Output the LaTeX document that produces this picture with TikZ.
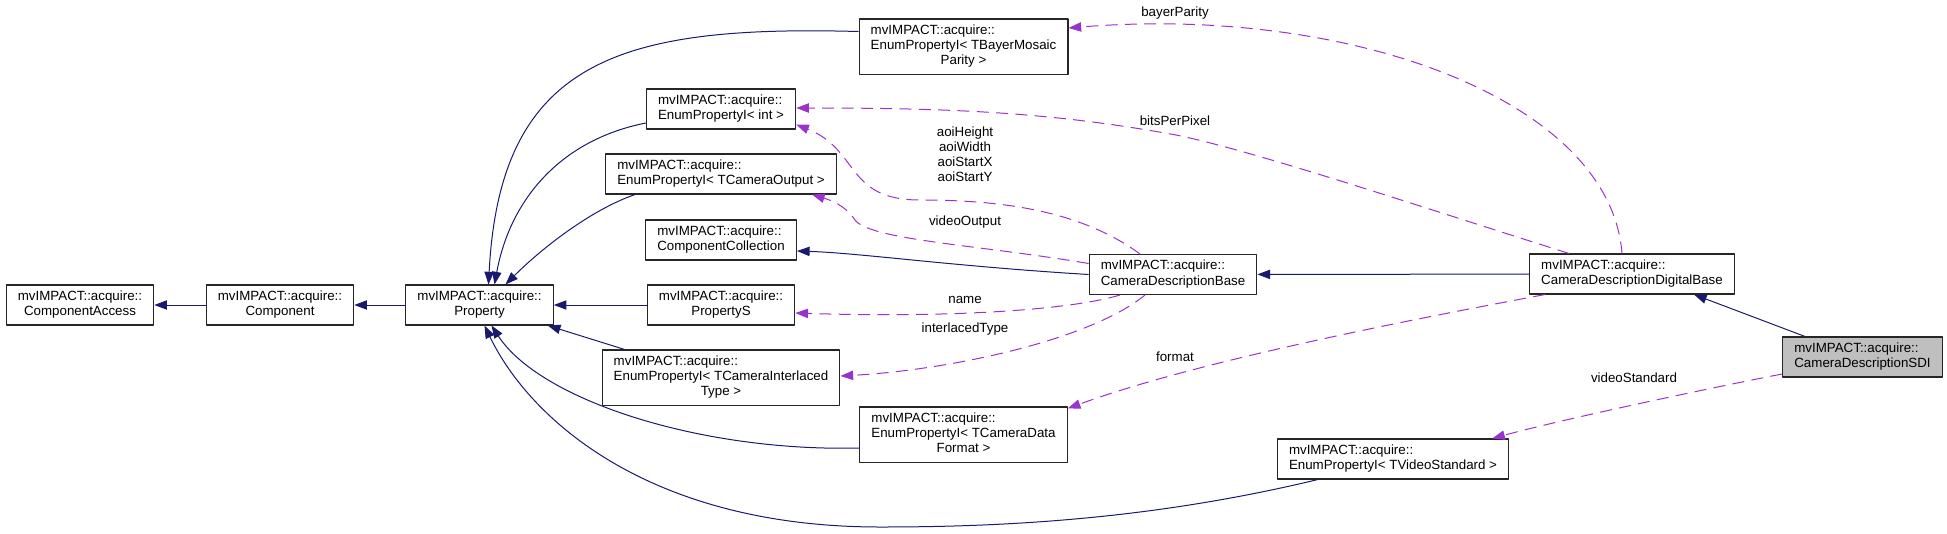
\documentclass[tikz,border=0pt]{standalone}
\usepackage{fontspec}
\setmainfont{Liberation Sans}
\usetikzlibrary{arrows.meta}
\definecolor{navyedge}{HTML}{191970}
\definecolor{orchidedge}{HTML}{9A32CD}
\definecolor{curfill}{HTML}{BFBFBF}
% class name: leading lines left, last line centred
\newcommand{\cname}[2]{\begin{tabular}{@{}l@{}}#1\\\multicolumn{1}{@{}c@{}}{#2}\end{tabular}}

\begin{document}
\begin{tikzpicture}[x=0.75pt, y=-0.75pt, line join=round,
	classbox/.style={draw=black!85, line width=0.8pt, fill=white, inner xsep=8.75pt, inner ysep=3.7pt, font=\fontsize{10}{11.3}\selectfont},
	lbl/.style={inner sep=0pt, font=\fontsize{10}{11.3}\selectfont},
	inh/.style={draw=navyedge, line width=0.75pt, -{Triangle[length=9.5pt,width=7pt]}},
	mem/.style={draw=orchidedge, line width=0.75pt, dash pattern=on 9pt off 5.5pt, -{Triangle[length=9.5pt,width=7pt]}}]
	\useasboundingbox (0,0) rectangle (1947,533);
	% classes
	\node[classbox] (acc) at (80,305) {\cname{mvIMPACT::acquire::}{ComponentAccess}};
	\node[classbox] (comp) at (280,305) {\cname{mvIMPACT::acquire::}{Component}};
	\node[classbox] (prop) at (479.5,305) {\cname{mvIMPACT::acquire::}{Property}};
	\node[classbox] (bayer) at (963.5,46.5) {\cname{mvIMPACT::acquire::\\EnumPropertyI< TBayerMosaic}{Parity >}};
	\node[classbox] (eint) at (721,109) {\cname{mvIMPACT::acquire::}{EnumPropertyI< int >}};
	\node[classbox] (eout) at (721,174) {\cname{mvIMPACT::acquire::}{EnumPropertyI< TCameraOutput >}};
	\node[classbox] (coll) at (721,240) {\cname{mvIMPACT::acquire::}{ComponentCollection}};
	\node[classbox] (props) at (721,305) {\cname{mvIMPACT::acquire::}{PropertyS}};
	\node[classbox] (einter) at (721,377.5) {\cname{mvIMPACT::acquire::\\EnumPropertyI< TCameraInterlaced}{Type >}};
	\node[classbox] (eformat) at (963.5,434.5) {\cname{mvIMPACT::acquire::\\EnumPropertyI< TCameraData}{Format >}};
	\node[classbox] (cdb) at (1173,274.5) {\cname{mvIMPACT::acquire::}{CameraDescriptionBase}};
	\node[classbox] (evideo) at (1393,459) {\cname{mvIMPACT::acquire::}{EnumPropertyI< TVideoStandard >}};
	\node[classbox] (cddb) at (1632,274) {\cname{mvIMPACT::acquire::}{CameraDescriptionDigitalBase}};
	\node[classbox, fill=curfill] (sdi) at (1862.5,357) {\cname{mvIMPACT::acquire::}{CameraDescriptionSDI}};
	% inheritance
	\foreach \a/\b in {comp/acc, prop/comp, props/prop, cddb/cdb}
		\draw[inh] (\a) -- (\b);
	\draw[inh] ([shift={(0,-15)}]bayer.west) .. controls (620,25) and (500,60) .. ([shift={(9,0)}]prop.north);
	\draw[inh] ([shift={(0,14)}]eint.west) .. controls (560,140) and (510,200) .. ([shift={(15,0)}]prop.north);
	\draw[inh] ([shift={(30,0)}]eout.south west) .. controls (590,210) and (540,250) .. ([shift={(26,0)}]prop.north);
	\draw[inh] ([shift={(23,0)}]einter.north west) -- ([shift={(-6,0)}]prop.south east);
	\draw[inh] ([shift={(0,13.5)}]eformat.west) .. controls (700,452) and (540,400) .. ([shift={(12,0)}]prop.south);
	\draw[inh] ([shift={(41,0)}]evideo.south west) .. controls (1150,520) and (1000,527) .. (880,527)
		.. controls (650,527) and (530,420) .. ([shift={(5,0)}]prop.south);
	\draw[inh] (cdb.west) .. controls (950,266) and (860,253) .. ([shift={(0,11)}]coll.east);
	\draw[inh] ([shift={(-57.5,0)}]sdi.north) -- ([shift={(62,0)}]cddb.south);
	% members
	\draw[mem] ([shift={(-10,0)}]cddb.north) .. controls (1610,100) and (1350,5) .. ([shift={(0,-18.5)}]bayer.east);
	\draw[mem] ([shift={(-63,0)}]cddb.north) .. controls (1400,200) and (1250,150) .. (1176,135)
		.. controls (1050,112) and (950,108) .. ([shift={(0,-1)}]eint.east);
	\draw[mem] ([shift={(-33,0)}]cdb.north) .. controls (1080,210) and (1000,200) .. (920,200)
		.. controls (845,200) and (860,150) .. ([shift={(0,-5)}]eint.south east);
	\draw[mem] ([shift={(0,-11)}]cdb.west) .. controls (980,245) and (870,240) .. (855,220)
		.. controls (845,205) and (830,200) .. ([shift={(-25,0)}]eout.south east);
	\draw[mem] ([shift={(-53,0)}]cdb.south) .. controls (1070,310) and (950,318) .. ([shift={(0,8)}]props.east);
	\draw[mem] ([shift={(-28,0)}]cdb.south) .. controls (1090,340) and (950,370) .. ([shift={(0,-1.5)}]einter.east);
	\draw[mem] ([shift={(16,0)}]cddb.south west) .. controls (1420,318) and (1200,360) .. ([shift={(0,2)}]eformat.north east);
	\draw[mem] ([shift={(0,17)}]sdi.west) .. controls (1700,390) and (1560,420) .. ([shift={(-17,0)}]evideo.north east);
	% member names
	\node[lbl] (lbayer) at (1175,13) {bayerParity};
	\node[lbl] (lbits) at (1175,121) {bitsPerPixel};
	\node[lbl, align=center] (laoi) at (965,154) {aoiHeight\\aoiWidth\\aoiStartX\\aoiStartY};
	\node[lbl] (lvout) at (965,222) {videoOutput};
	\node[lbl] (lname) at (965,300) {name};
	\node[lbl] (linter) at (965,329) {interlacedType};
	\node[lbl] (lformat) at (1175,357) {format};
	\node[lbl] (lvstd) at (1634,378) {videoStandard};
\end{tikzpicture}
\end{document}
